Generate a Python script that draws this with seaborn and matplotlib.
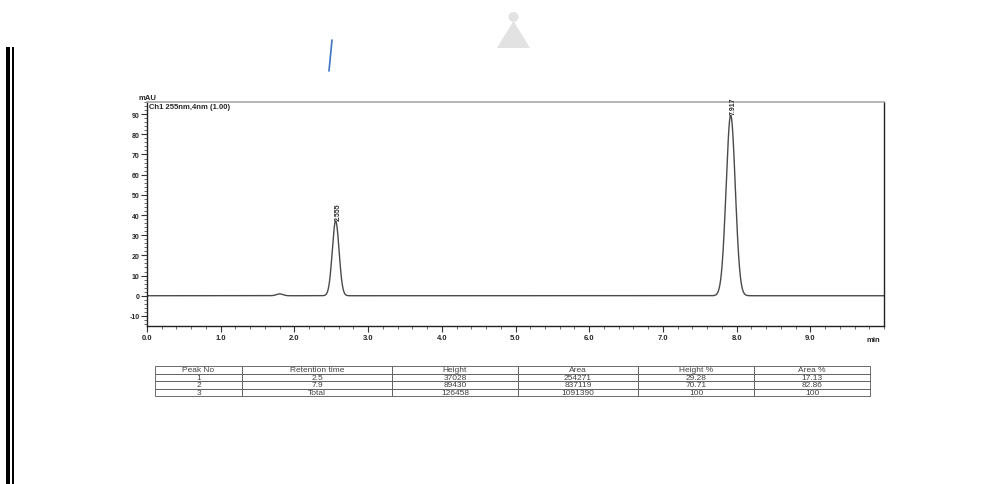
import numpy as np
import pandas as pd
import matplotlib
matplotlib.use("Agg")
import matplotlib.pyplot as plt
from matplotlib.ticker import MultipleLocator
from matplotlib.patches import Polygon, Ellipse, Rectangle
from matplotlib.lines import Line2D
import seaborn as sns

# Peak parameters of the trace (retention time in min, apex in mAU, sigma in min)
peak_rt = [1.80, 2.56, 7.92]
peak_height = [0.9, 37.028, 89.430]
peak_sigma = [0.045, 0.046, 0.062]
peak_labels = ["2.555", "7.917"]

# Result table
table_cols = ["Peak No", "Retention time", "Height", "Area", "Height %", "Area %"]
peak_no = ["1", "2", "3"]
ret_time = ["2.5", "7.9", "Total"]
heights = ["37028", "89430", "126458"]
areas = ["254271", "837119", "1091390"]
height_pct = ["29.28", "70.71", "100"]
area_pct = ["17.13", "82.86", "100"]

sns.set_theme(style="white")
plt.rcParams["font.family"] = ["Liberation Sans", "DejaVu Sans"]

t = np.linspace(0, 10, 4001)
signal = np.zeros_like(t)
for rt, h, s in zip(peak_rt, peak_height, peak_sigma):
    signal += h * np.exp(-0.5 * ((t - rt) / s) ** 2)
trace = pd.DataFrame({"min": t, "mAU": signal})

fig = plt.figure(figsize=(10.02, 4.85), dpi=100)
ax = fig.add_axes([147 / 1002, 1 - 327 / 485, (884 - 147) / 1002, (327 - 103) / 485])
sns.lineplot(data=trace, x="min", y="mAU", ax=ax, color="#4a4a4a", linewidth=1.0)

ax.set_xlim(0, 10)
ax.set_ylim(-15, 96)
ax.set_xlabel("")
ax.set_ylabel("")
ax.xaxis.set_minor_locator(MultipleLocator(0.2))
ax.yaxis.set_minor_locator(MultipleLocator(2))
xt = np.arange(0, 10, 1)
ax.set_xticks(xt)
ax.set_xticklabels([f"{v:.1f}" for v in xt], fontsize=5.5, fontweight="bold")
yt = np.arange(-10, 100, 10)
ax.set_yticks(yt)
ax.set_yticklabels([str(v) for v in yt], fontsize=5, fontweight="bold")
ax.tick_params(axis="both", which="major", direction="out", length=4, width=0.8,
               color="#333333", pad=1.5, bottom=True, left=True)
ax.tick_params(axis="both", which="minor", direction="out", length=2, width=0.6,
               color="#555555", bottom=True, left=True)
for side in ["left", "bottom", "right"]:
    ax.spines[side].set_color("#222222")
    ax.spines[side].set_linewidth(1.0)
ax.spines["top"].set_color("#aaaaaa")
ax.spines["top"].set_linewidth(1.2)

ax.text(0.995, -0.045, "min", transform=ax.transAxes, ha="right", va="top",
        fontsize=5.5, fontweight="bold")
ax.text(-0.012, 1.005, "mAU", transform=ax.transAxes, ha="left", va="bottom",
        fontsize=5.5, fontweight="bold")
ax.text(0.003, 0.995, "Ch1 255nm,4nm (1.00)", transform=ax.transAxes, ha="left",
        va="top", fontsize=5.5, fontweight="bold")

for rt, h, lab in zip(peak_rt[1:], peak_height[1:], peak_labels):
    ax.text(rt + 0.04, h + 0.5, lab, rotation=90, ha="center", va="bottom",
            fontsize=5, fontweight="bold")

# Result table below the chromatogram
cells = [list(r) for r in zip(peak_no, ret_time, heights, areas, height_pct, area_pct)]
edges = [155, 242, 392, 518, 638, 754, 870]
widths = [(edges[i + 1] - edges[i]) / (edges[-1] - edges[0]) for i in range(6)]
tax = fig.add_axes([155 / 1002, 1 - 397 / 485, (870 - 155) / 1002, 30 / 485])
tax.axis("off")
tbl = tax.table(cellText=cells, colLabels=table_cols, colWidths=widths,
                cellLoc="center", loc="upper left", bbox=[0, 0, 1, 1])
tbl.auto_set_font_size(False)
for (r, c), cell in tbl.get_celld().items():
    cell.set_fontsize(6)
    cell.set_edgecolor("#555555")
    cell.set_linewidth(0.6)
    cell.get_text().set_color("#444444")
    cell.PAD = 0.0

# Page decorations around the printout
fig.add_artist(Rectangle((6 / 1002, 0), 4 / 1002, 1 - 48 / 485,
                         transform=fig.transFigure, color="black", lw=0))
fig.add_artist(Rectangle((12 / 1002, 0), 1.5 / 1002, 1 - 48 / 485,
                         transform=fig.transFigure, color="black", lw=0))
fig.add_artist(Line2D([332 / 1002, 329 / 1002], [1 - 41 / 485, 1 - 72 / 485],
                      transform=fig.transFigure, color="#3f74c2", lw=1.2))
fig.add_artist(Polygon([[497 / 1002, 1 - 49 / 485], [530 / 1002, 1 - 49 / 485],
                        [513.5 / 1002, 1 - 22 / 485]], closed=True,
                       transform=fig.transFigure, color="#e2e2e2", lw=0))
fig.add_artist(Ellipse((513.5 / 1002, 1 - 18 / 485), 10 / 1002, 10 / 485,
                       transform=fig.transFigure, color="#e2e2e2", lw=0))

fig.savefig("out.png", dpi=100)
